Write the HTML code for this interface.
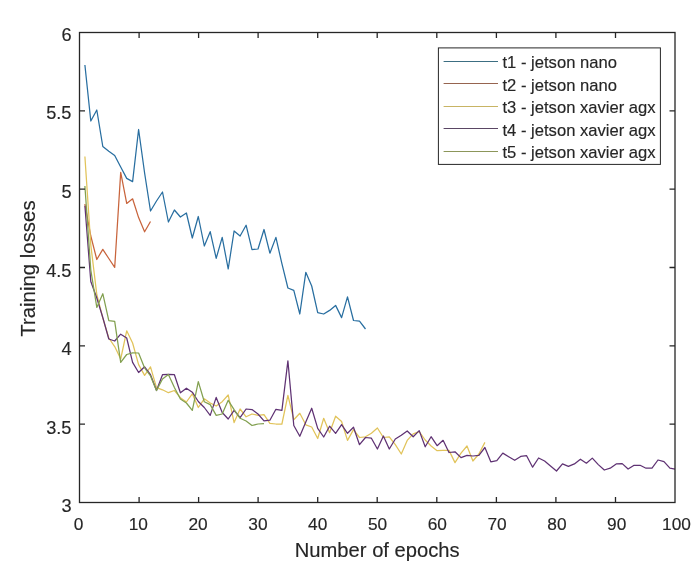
<!DOCTYPE html>
<html lang="en">
<head>
<meta charset="utf-8">
<title>Training losses</title>
<style>
html,body{margin:0;padding:0;background:#fff;}
body{width:700px;height:570px;overflow:hidden;}
svg{display:block;}
text{font-family:"Liberation Sans",sans-serif;fill:#262626;stroke:#262626;stroke-width:0.15px;}
.tick{font-size:18px;}
.lab{font-size:20.2px;}
.leg{font-size:16.6px;}
.ax{stroke:#262626;stroke-width:1.3;fill:none;}
.ln{fill:none;stroke-width:1.25;stroke-linejoin:round;stroke-linecap:butt;}
</style>
</head>
<body>
<svg width="700" height="570" viewBox="0 0 700 570">
<rect x="0" y="0" width="700" height="570" fill="#ffffff"/>
<polyline class="ln" stroke="#286EA0" points="84.9,65.0 90.8,121.0 96.8,110.0 102.8,146.5 108.8,151.3 114.7,155.5 120.7,167.0 126.7,178.4 132.6,181.6 138.6,129.5 144.6,173.0 150.5,211.0 156.5,201.0 162.5,192.0 168.4,222.0 174.4,210.0 180.4,217.0 186.4,213.0 192.3,238.0 198.3,216.5 204.3,246.0 210.2,231.7 216.2,258.3 222.2,237.4 228.2,269.0 234.1,231.0 240.1,236.0 246.1,225.2 252.0,249.6 258.0,249.0 264.0,229.5 269.9,253.2 275.9,237.4 281.9,263.7 287.9,288.0 293.8,290.3 299.8,314.0 305.8,272.3 311.7,286.0 317.7,312.6 323.7,314.0 329.6,310.4 335.6,305.4 341.6,317.6 347.5,296.8 353.5,320.5 359.5,321.2 365.5,329.0"/>
<polyline class="ln" stroke="#C8643C" points="84.9,204.0 90.8,236.0 96.8,259.5 102.8,249.4 108.8,258.5 114.7,267.4 120.7,172.4 126.7,203.4 132.6,198.8 138.6,217.6 144.6,231.8 150.5,221.5"/>
<polyline class="ln" stroke="#E1C35A" points="84.9,156.5 90.8,245.0 96.8,294.5 102.8,318.0 108.8,338.0 114.7,346.6 120.7,359.0 126.7,330.8 132.6,343.0 138.6,364.6 144.6,375.4 150.5,366.8 156.5,387.6 162.5,389.8 168.4,392.7 174.4,390.5 180.4,397.7 186.4,402.0 192.3,393.8 198.3,407.5 204.3,398.8 210.2,403.0 216.2,406.0 222.2,401.7 228.2,395.0 234.1,422.6 240.1,409.0 246.1,416.8 252.0,414.0 258.0,415.4 264.0,414.7 269.9,423.3 275.9,424.0 281.9,424.0 287.9,395.3 293.8,419.7 299.8,413.3 305.8,424.8 311.7,427.0 317.7,438.5 323.7,418.3 329.6,432.7 335.6,416.2 341.6,421.5 347.5,440.4 353.5,429.6 359.5,437.5 365.5,436.8 371.4,433.2 377.4,428.0 383.4,437.5 389.3,436.8 395.3,444.7 401.3,454.0 407.2,440.4 413.2,433.9 419.2,431.7 425.2,440.0 431.1,446.0 437.1,450.7 443.1,450.4 449.0,450.4 455.0,462.6 461.0,453.2 467.0,446.0 472.9,461.0 478.9,454.0 484.9,442.4"/>
<polyline class="ln" stroke="#5F3273" points="84.9,205.8 90.8,281.5 96.8,298.0 102.8,317.5 108.8,339.0 114.7,341.0 120.7,334.2 126.7,338.0 132.6,362.4 138.6,372.5 144.6,366.8 150.5,374.7 156.5,390.5 162.5,374.7 168.4,374.4 174.4,374.7 180.4,392.8 186.4,388.2 192.3,392.2 198.3,401.5 204.3,407.5 210.2,415.4 216.2,397.4 222.2,412.5 228.2,419.0 234.1,410.4 240.1,417.6 246.1,409.0 252.0,409.6 258.0,414.0 264.0,420.8 269.9,420.2 275.9,409.3 281.9,410.4 287.9,360.8 293.8,425.5 299.8,436.3 305.8,422.0 311.7,408.2 317.7,428.4 323.7,437.0 329.6,426.2 335.6,433.4 341.6,424.6 347.5,433.3 353.5,427.2 359.5,444.7 365.5,437.5 371.4,438.2 377.4,449.0 383.4,436.0 389.3,449.0 395.3,439.0 401.3,435.3 407.2,431.0 413.2,436.8 419.2,430.6 425.2,446.8 431.1,436.7 437.1,445.7 443.1,440.3 449.0,452.5 455.0,451.8 461.0,457.6 467.0,455.4 472.9,456.0 478.9,455.4 484.9,447.5 490.8,461.8 496.8,460.7 502.8,453.1 508.7,456.7 514.7,460.3 520.7,456.4 526.6,455.7 532.6,467.2 538.6,458.0 544.6,461.0 550.5,466.0 556.5,471.0 562.5,463.9 568.4,466.3 574.4,463.9 580.4,459.2 586.4,463.2 592.3,458.1 598.3,464.6 604.3,470.0 610.2,468.2 616.2,463.9 622.2,463.6 628.1,469.0 634.1,465.3 640.1,465.3 646.0,468.2 652.0,468.2 658.0,460.0 664.0,461.7 669.9,468.2 675.0,469.2"/>
<polyline class="ln" stroke="#82A050" points="84.9,186.0 90.8,270.0 96.8,307.4 102.8,293.7 108.8,320.7 114.7,321.4 120.7,362.4 126.7,354.5 132.6,352.8 138.6,353.0 144.6,368.0 150.5,376.0 156.5,390.5 162.5,379.0 168.4,374.5 174.4,387.5 180.4,399.0 186.4,403.0 192.3,410.4 198.3,381.6 204.3,401.7 210.2,404.6 216.2,415.4 222.2,414.0 228.2,400.3 234.1,409.6 240.1,418.3 246.1,421.0 252.0,425.5 258.0,424.0 264.0,423.7"/>
<rect class="ax" x="79.5" y="32.5" width="595.5" height="470.0"/>
<path class="ax" d="M139.1 502.5V497.0M139.1 32.5V38.0M198.6 502.5V497.0M198.6 32.5V38.0M258.1 502.5V497.0M258.1 32.5V38.0M317.7 502.5V497.0M317.7 32.5V38.0M377.2 502.5V497.0M377.2 32.5V38.0M436.8 502.5V497.0M436.8 32.5V38.0M496.4 502.5V497.0M496.4 32.5V38.0M555.9 502.5V497.0M555.9 32.5V38.0M615.5 502.5V497.0M615.5 32.5V38.0M79.5 424.2H85.0M675.0 424.2H669.5M79.5 345.8H85.0M675.0 345.8H669.5M79.5 267.5H85.0M675.0 267.5H669.5M79.5 189.2H85.0M675.0 189.2H669.5M79.5 110.8H85.0M675.0 110.8H669.5"/>
<text class="tick" style="font-size:17.3px" x="78.5" y="530.2" text-anchor="middle">0</text>
<text class="tick" style="font-size:17.3px" x="138.3" y="530.2" text-anchor="middle">10</text>
<text class="tick" style="font-size:17.3px" x="198.1" y="530.2" text-anchor="middle">20</text>
<text class="tick" style="font-size:17.3px" x="257.9" y="530.2" text-anchor="middle">30</text>
<text class="tick" style="font-size:17.3px" x="317.7" y="530.2" text-anchor="middle">40</text>
<text class="tick" style="font-size:17.3px" x="377.5" y="530.2" text-anchor="middle">50</text>
<text class="tick" style="font-size:17.3px" x="437.3" y="530.2" text-anchor="middle">60</text>
<text class="tick" style="font-size:17.3px" x="497.1" y="530.2" text-anchor="middle">70</text>
<text class="tick" style="font-size:17.3px" x="556.9" y="530.2" text-anchor="middle">80</text>
<text class="tick" style="font-size:17.3px" x="616.7" y="530.2" text-anchor="middle">90</text>
<text class="tick" style="font-size:17.3px" x="676.5" y="530.2" text-anchor="middle">100</text>
<text class="tick" style="font-size:18.2px" x="71.5" y="512" text-anchor="end">3</text>
<text class="tick" style="font-size:18.2px" x="71.5" y="434" text-anchor="end">3.5</text>
<text class="tick" style="font-size:18.2px" x="71.5" y="355" text-anchor="end">4</text>
<text class="tick" style="font-size:18.2px" x="71.5" y="277" text-anchor="end">4.5</text>
<text class="tick" style="font-size:18.2px" x="71.5" y="198" text-anchor="end">5</text>
<text class="tick" style="font-size:18.2px" x="71.5" y="119" text-anchor="end">5.5</text>
<text class="tick" style="font-size:18.2px" x="71.5" y="41" text-anchor="end">6</text>
<text class="lab" x="377.2" y="557" text-anchor="middle">Number of epochs</text>
<text class="lab" style="font-size:20.4px" transform="translate(34.7 268.6) rotate(-90)" text-anchor="middle">Training losses</text>
<rect x="438.4" y="47.9" width="222" height="116.5" fill="#ffffff" stroke="#262626" stroke-width="1"/>
<line x1="443.6" y1="61.5" x2="498" y2="61.5" stroke="#3C6E82" stroke-width="1"/>
<text class="leg" x="502.5" y="68">t1 - jetson nano</text>
<line x1="443.6" y1="83.5" x2="498" y2="83.5" stroke="#96644F" stroke-width="1"/>
<text class="leg" x="502.5" y="91">t2 - jetson nano</text>
<line x1="443.6" y1="106.5" x2="498" y2="106.5" stroke="#C8B464" stroke-width="1"/>
<text class="leg" x="502.5" y="113">t3 - jetson xavier agx</text>
<line x1="443.6" y1="128.5" x2="498" y2="128.5" stroke="#5A4664" stroke-width="1"/>
<text class="leg" x="502.5" y="136">t4 - jetson xavier agx</text>
<line x1="443.6" y1="151.5" x2="498" y2="151.5" stroke="#8C965A" stroke-width="1"/>
<text class="leg" x="502.5" y="158">t5 - jetson xavier agx</text>
</svg>
</body>
</html>
